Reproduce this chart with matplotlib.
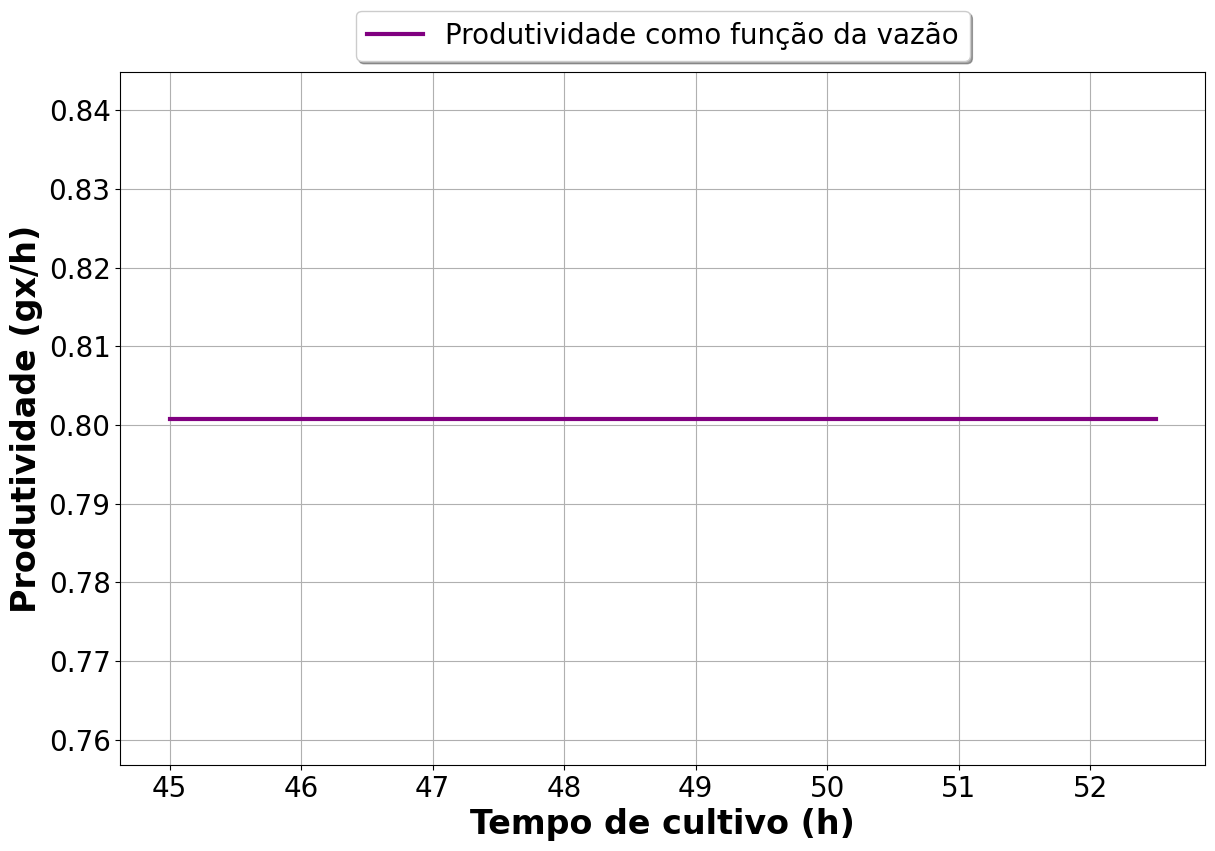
import matplotlib.pyplot as plt

# tempo de cultivo (h) e produtividade (gx/h)
tempo = [45.0, 45.5, 46.0, 46.5, 47.0, 47.5, 48.0, 48.5, 49.0, 49.5,
         50.0, 50.5, 51.0, 51.5, 52.0, 52.5]
produtividade = [0.8008] * len(tempo)

fig, ax = plt.subplots(figsize=(12.15, 8.51), dpi=100)
plt.subplots_adjust(left=0.099, right=0.992, top=0.915, bottom=0.101)

ax.plot(tempo, produtividade, color='purple', linewidth=3,
        label='Produtividade como função da vazão')

ax.set_xlabel('Tempo de cultivo (h)', fontsize=24, fontweight='bold')
ax.set_ylabel('Produtividade (gx/h)', fontsize=24, fontweight='bold')
ax.tick_params(labelsize=20)
ax.grid(True)
ax.legend(loc='upper center', bbox_to_anchor=(0.5, 1.109), fontsize=20, shadow=True)

plt.savefig('out.png')
